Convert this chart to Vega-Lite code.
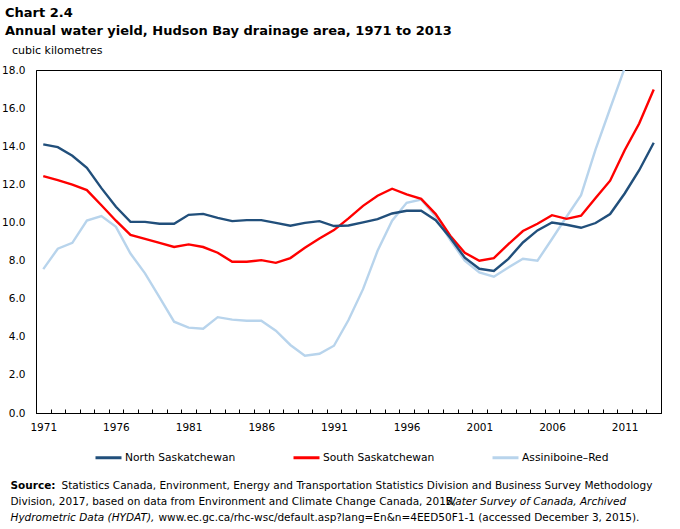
{
  "$schema": "https://vega.github.io/schema/vega-lite/v6.json",
  "width": 625,
  "height": 343,
  "autosize": {"type": "none"},
  "padding": {"left": 36, "top": 70, "right": 19, "bottom": 116},
  "background": "white",
  "title": {
    "text": ["Chart 2.4", "Annual water yield, Hudson Bay drainage area, 1971 to 2013"],
    "subtitle": "\u200b\u00a0\u00a0cubic kilometres",
    "anchor": "start",
    "frame": "group",
    "dx": -31,
    "offset": 9,
    "font": "DejaVu Sans",
    "fontSize": 13,
    "fontWeight": "bold",
    "color": "black",
    "lineHeight": 18,
    "subtitleFont": "DejaVu Sans",
    "subtitleFontSize": 11,
    "subtitleColor": "black",
    "subtitlePadding": 7
  },
  "data": {
    "values": [
      {"year": 1971, "series": "North Saskatchewan", "value": 14.1},
      {"year": 1972, "series": "North Saskatchewan", "value": 13.95},
      {"year": 1973, "series": "North Saskatchewan", "value": 13.5},
      {"year": 1974, "series": "North Saskatchewan", "value": 12.87},
      {"year": 1975, "series": "North Saskatchewan", "value": 11.8},
      {"year": 1976, "series": "North Saskatchewan", "value": 10.82},
      {"year": 1977, "series": "North Saskatchewan", "value": 10.03},
      {"year": 1978, "series": "North Saskatchewan", "value": 10.03},
      {"year": 1979, "series": "North Saskatchewan", "value": 9.93},
      {"year": 1980, "series": "North Saskatchewan", "value": 9.93},
      {"year": 1981, "series": "North Saskatchewan", "value": 10.4},
      {"year": 1982, "series": "North Saskatchewan", "value": 10.45},
      {"year": 1983, "series": "North Saskatchewan", "value": 10.24},
      {"year": 1984, "series": "North Saskatchewan", "value": 10.07},
      {"year": 1985, "series": "North Saskatchewan", "value": 10.12},
      {"year": 1986, "series": "North Saskatchewan", "value": 10.12},
      {"year": 1987, "series": "North Saskatchewan", "value": 9.98},
      {"year": 1988, "series": "North Saskatchewan", "value": 9.83},
      {"year": 1989, "series": "North Saskatchewan", "value": 9.98},
      {"year": 1990, "series": "North Saskatchewan", "value": 10.07},
      {"year": 1991, "series": "North Saskatchewan", "value": 9.81},
      {"year": 1992, "series": "North Saskatchewan", "value": 9.84},
      {"year": 1993, "series": "North Saskatchewan", "value": 10.0},
      {"year": 1994, "series": "North Saskatchewan", "value": 10.17},
      {"year": 1995, "series": "North Saskatchewan", "value": 10.47},
      {"year": 1996, "series": "North Saskatchewan", "value": 10.61},
      {"year": 1997, "series": "North Saskatchewan", "value": 10.61},
      {"year": 1998, "series": "North Saskatchewan", "value": 10.12},
      {"year": 1999, "series": "North Saskatchewan", "value": 9.2},
      {"year": 2000, "series": "North Saskatchewan", "value": 8.15},
      {"year": 2001, "series": "North Saskatchewan", "value": 7.57},
      {"year": 2002, "series": "North Saskatchewan", "value": 7.45},
      {"year": 2003, "series": "North Saskatchewan", "value": 8.09},
      {"year": 2004, "series": "North Saskatchewan", "value": 8.95},
      {"year": 2005, "series": "North Saskatchewan", "value": 9.58},
      {"year": 2006, "series": "North Saskatchewan", "value": 10.0},
      {"year": 2007, "series": "North Saskatchewan", "value": 9.88},
      {"year": 2008, "series": "North Saskatchewan", "value": 9.72},
      {"year": 2009, "series": "North Saskatchewan", "value": 9.97},
      {"year": 2010, "series": "North Saskatchewan", "value": 10.44},
      {"year": 2011, "series": "North Saskatchewan", "value": 11.52},
      {"year": 2012, "series": "North Saskatchewan", "value": 12.74},
      {"year": 2013, "series": "North Saskatchewan", "value": 14.18},
      {"year": 1971, "series": "South Saskatchewan", "value": 12.43},
      {"year": 1972, "series": "South Saskatchewan", "value": 12.22},
      {"year": 1973, "series": "South Saskatchewan", "value": 11.98},
      {"year": 1974, "series": "South Saskatchewan", "value": 11.7},
      {"year": 1975, "series": "South Saskatchewan", "value": 10.9},
      {"year": 1976, "series": "South Saskatchewan", "value": 10.09},
      {"year": 1977, "series": "South Saskatchewan", "value": 9.35},
      {"year": 1978, "series": "South Saskatchewan", "value": 9.14},
      {"year": 1979, "series": "South Saskatchewan", "value": 8.93},
      {"year": 1980, "series": "South Saskatchewan", "value": 8.71},
      {"year": 1981, "series": "South Saskatchewan", "value": 8.85},
      {"year": 1982, "series": "South Saskatchewan", "value": 8.71},
      {"year": 1983, "series": "South Saskatchewan", "value": 8.41},
      {"year": 1984, "series": "South Saskatchewan", "value": 7.94},
      {"year": 1985, "series": "South Saskatchewan", "value": 7.94},
      {"year": 1986, "series": "South Saskatchewan", "value": 8.02},
      {"year": 1987, "series": "South Saskatchewan", "value": 7.88},
      {"year": 1988, "series": "South Saskatchewan", "value": 8.13},
      {"year": 1989, "series": "South Saskatchewan", "value": 8.67},
      {"year": 1990, "series": "South Saskatchewan", "value": 9.16},
      {"year": 1991, "series": "South Saskatchewan", "value": 9.6},
      {"year": 1992, "series": "South Saskatchewan", "value": 10.21},
      {"year": 1993, "series": "South Saskatchewan", "value": 10.87},
      {"year": 1994, "series": "South Saskatchewan", "value": 11.4},
      {"year": 1995, "series": "South Saskatchewan", "value": 11.77},
      {"year": 1996, "series": "South Saskatchewan", "value": 11.47},
      {"year": 1997, "series": "South Saskatchewan", "value": 11.24},
      {"year": 1998, "series": "South Saskatchewan", "value": 10.44},
      {"year": 1999, "series": "South Saskatchewan", "value": 9.3},
      {"year": 2000, "series": "South Saskatchewan", "value": 8.41},
      {"year": 2001, "series": "South Saskatchewan", "value": 7.99},
      {"year": 2002, "series": "South Saskatchewan", "value": 8.13},
      {"year": 2003, "series": "South Saskatchewan", "value": 8.86},
      {"year": 2004, "series": "South Saskatchewan", "value": 9.55},
      {"year": 2005, "series": "South Saskatchewan", "value": 9.93},
      {"year": 2006, "series": "South Saskatchewan", "value": 10.38},
      {"year": 2007, "series": "South Saskatchewan", "value": 10.19},
      {"year": 2008, "series": "South Saskatchewan", "value": 10.35},
      {"year": 2009, "series": "South Saskatchewan", "value": 11.28},
      {"year": 2010, "series": "South Saskatchewan", "value": 12.19},
      {"year": 2011, "series": "South Saskatchewan", "value": 13.79},
      {"year": 2012, "series": "South Saskatchewan", "value": 15.19},
      {"year": 2013, "series": "South Saskatchewan", "value": 16.98},
      {"year": 1971, "series": "Assiniboine–Red", "value": 7.55},
      {"year": 1972, "series": "Assiniboine–Red", "value": 8.62},
      {"year": 1973, "series": "Assiniboine–Red", "value": 8.93},
      {"year": 1974, "series": "Assiniboine–Red", "value": 10.1},
      {"year": 1975, "series": "Assiniboine–Red", "value": 10.33},
      {"year": 1976, "series": "Assiniboine–Red", "value": 9.77},
      {"year": 1977, "series": "Assiniboine–Red", "value": 8.37},
      {"year": 1978, "series": "Assiniboine–Red", "value": 7.33},
      {"year": 1979, "series": "Assiniboine–Red", "value": 6.07},
      {"year": 1980, "series": "Assiniboine–Red", "value": 4.79},
      {"year": 1981, "series": "Assiniboine–Red", "value": 4.48},
      {"year": 1982, "series": "Assiniboine–Red", "value": 4.42},
      {"year": 1983, "series": "Assiniboine–Red", "value": 5.03},
      {"year": 1984, "series": "Assiniboine–Red", "value": 4.9},
      {"year": 1985, "series": "Assiniboine–Red", "value": 4.84},
      {"year": 1986, "series": "Assiniboine–Red", "value": 4.84},
      {"year": 1987, "series": "Assiniboine–Red", "value": 4.32},
      {"year": 1988, "series": "Assiniboine–Red", "value": 3.57},
      {"year": 1989, "series": "Assiniboine–Red", "value": 3.01},
      {"year": 1990, "series": "Assiniboine–Red", "value": 3.11},
      {"year": 1991, "series": "Assiniboine–Red", "value": 3.53},
      {"year": 1992, "series": "Assiniboine–Red", "value": 4.88},
      {"year": 1993, "series": "Assiniboine–Red", "value": 6.5},
      {"year": 1994, "series": "Assiniboine–Red", "value": 8.51},
      {"year": 1995, "series": "Assiniboine–Red", "value": 10.09},
      {"year": 1996, "series": "Assiniboine–Red", "value": 11.03},
      {"year": 1997, "series": "Assiniboine–Red", "value": 11.2},
      {"year": 1998, "series": "Assiniboine–Red", "value": 10.3},
      {"year": 1999, "series": "Assiniboine–Red", "value": 9.07},
      {"year": 2000, "series": "Assiniboine–Red", "value": 7.99},
      {"year": 2001, "series": "Assiniboine–Red", "value": 7.38},
      {"year": 2002, "series": "Assiniboine–Red", "value": 7.15},
      {"year": 2003, "series": "Assiniboine–Red", "value": 7.64},
      {"year": 2004, "series": "Assiniboine–Red", "value": 8.09},
      {"year": 2005, "series": "Assiniboine–Red", "value": 7.99},
      {"year": 2006, "series": "Assiniboine–Red", "value": 9.13},
      {"year": 2007, "series": "Assiniboine–Red", "value": 10.3},
      {"year": 2008, "series": "Assiniboine–Red", "value": 11.43},
      {"year": 2009, "series": "Assiniboine–Red", "value": 13.83},
      {"year": 2010, "series": "Assiniboine–Red", "value": 15.98},
      {"year": 2011, "series": "Assiniboine–Red", "value": 18.1},
      {"year": 2012, "series": "Assiniboine–Red", "value": 20.5},
      {"year": 2013, "series": "Assiniboine–Red", "value": 22.0}
    ]
  },
  "layer": [
    {
      "transform": [{"filter": "datum.series === 'Assiniboine–Red'"}],
      "mark": {"type": "line", "strokeWidth": 2.4, "clip": true},
      "encoding": {
        "x": {
          "field": "year", "type": "ordinal", "bandPosition": 0.5,
          "scale": {"type": "band", "paddingInner": 0, "paddingOuter": 0},
          "axis": {
            "orient": "top", "labels": false, "ticks": false, "domain": false,
            "title": "Division, 2017, based on data from Environment and Climate Change Canada, 2015,",
            "titleFont": "DejaVu Sans", "titleFontSize": 10.5, "titleFontWeight": "normal", "titleColor": "black",
            "titleAlign": "left", "titleBaseline": "alphabetic", "titleAngle": 0,
            "titleX": -26, "titleY": 434
          }
        },
        "y": {
          "field": "value", "type": "quantitative",
          "scale": {"domain": [0, 18], "nice": false},
          "axis": {
            "orient": "right", "labels": false, "ticks": false, "domain": false,
            "title": "Water Survey of Canada, Archived",
            "titleFont": "DejaVu Sans", "titleFontSize": 10.5, "titleFontWeight": "normal",
            "titleFontStyle": "italic", "titleColor": "black",
            "titleAlign": "left", "titleBaseline": "alphabetic", "titleAngle": 0,
            "titleX": -216, "titleY": 434
          }
        },
        "color": {
          "field": "series", "type": "nominal",
          "scale": {"domain": ["North Saskatchewan", "South Saskatchewan", "Assiniboine–Red"], "range": ["#214f7b", "#ff0000", "#b8d4ec"]},
          "legend": {
            "orient": "none", "legendX": 58, "legendY": 373, "direction": "horizontal", "title": null,
            "symbolType": "stroke", "symbolSize": 676, "symbolStrokeWidth": 3,
            "labelFont": "DejaVu Sans", "labelFontSize": 10.7, "labelColor": "black",
            "labelOffset": 2, "columnPadding": 51
          }
        }
      }
    },
    {
      "transform": [{"filter": "datum.series === 'South Saskatchewan'"}],
      "mark": {"type": "line", "strokeWidth": 2.4, "clip": true},
      "encoding": {
        "x": {
          "field": "year", "type": "ordinal", "bandPosition": 0.5,
          "scale": {"type": "band", "paddingInner": 0, "paddingOuter": 0},
          "axis": {
            "orient": "bottom",
            "tickBand": "extent", "tickSize": -4, "tickColor": "black",
            "labelExpr": "datum.value % 5 == 1 ? datum.label : ''",
            "labelAngle": 0, "labelPadding": 13, "labelFont": "DejaVu Sans", "labelFontSize": 10.5, "labelColor": "black",
            "domainColor": "black",
            "title": "Statistics Canada, Environment, Energy and Transportation Statistics Division and Business Survey Methodology",
            "titleFont": "DejaVu Sans", "titleFontSize": 10.5, "titleFontWeight": "normal", "titleColor": "black",
            "titleAlign": "left", "titleBaseline": "alphabetic", "titleAngle": 0,
            "titleX": 25, "titleY": 75
          }
        },
        "y": {
          "field": "value", "type": "quantitative",
          "scale": {"domain": [0, 18], "nice": false},
          "axis": {
            "orient": "left",
            "values": [0, 2, 4, 6, 8, 10, 12, 14, 16, 18],
            "format": ".1f", "ticks": false, "labelPadding": 11,
            "labelFont": "DejaVu Sans", "labelFontSize": 10.5, "labelColor": "black",
            "domainColor": "black",
            "title": "Source:",
            "titleFont": "DejaVu Sans", "titleFontSize": 10.5, "titleFontWeight": "bold", "titleColor": "black",
            "titleAngle": 0, "titleAlign": "left", "titleBaseline": "alphabetic",
            "titleX": -26, "titleY": 418
          }
        },
        "color": {
          "field": "series", "type": "nominal",
          "scale": {"domain": ["North Saskatchewan", "South Saskatchewan", "Assiniboine–Red"], "range": ["#214f7b", "#ff0000", "#b8d4ec"]},
          "legend": {
            "orient": "none", "legendX": 58, "legendY": 373, "direction": "horizontal", "title": null,
            "symbolType": "stroke", "symbolSize": 676, "symbolStrokeWidth": 3,
            "labelFont": "DejaVu Sans", "labelFontSize": 10.7, "labelColor": "black",
            "labelOffset": 2, "columnPadding": 51
          }
        }
      }
    },
    {
      "transform": [{"filter": "datum.series === 'North Saskatchewan'"}],
      "mark": {"type": "line", "strokeWidth": 2.4, "clip": true},
      "encoding": {
        "x": {
          "field": "year", "type": "ordinal", "bandPosition": 0.5,
          "scale": {"type": "band", "paddingInner": 0, "paddingOuter": 0},
          "axis": {
            "orient": "top", "labels": false, "ticks": false, "domain": false,
            "title": "Hydrometric Data (HYDAT),",
            "titleFont": "DejaVu Sans", "titleFontSize": 10.5, "titleFontWeight": "normal",
            "titleFontStyle": "italic", "titleColor": "black",
            "titleAlign": "left", "titleBaseline": "alphabetic", "titleAngle": 0,
            "titleX": -26, "titleY": 450
          }
        },
        "y": {
          "field": "value", "type": "quantitative",
          "scale": {"domain": [0, 18], "nice": false},
          "axis": {
            "orient": "right", "labels": false, "ticks": false, "domain": false,
            "title": "www.ec.gc.ca/rhc-wsc/default.asp?lang=En&n=4EED50F1-1 (accessed December 3, 2015).",
            "titleFont": "DejaVu Sans", "titleFontSize": 10.5, "titleFontWeight": "normal", "titleColor": "black",
            "titleAlign": "left", "titleBaseline": "alphabetic", "titleAngle": 0,
            "titleX": -503, "titleY": 450
          }
        },
        "color": {
          "field": "series", "type": "nominal",
          "scale": {"domain": ["North Saskatchewan", "South Saskatchewan", "Assiniboine–Red"], "range": ["#214f7b", "#ff0000", "#b8d4ec"]},
          "legend": {
            "orient": "none", "legendX": 58, "legendY": 373, "direction": "horizontal", "title": null,
            "symbolType": "stroke", "symbolSize": 676, "symbolStrokeWidth": 3,
            "labelFont": "DejaVu Sans", "labelFontSize": 10.7, "labelColor": "black",
            "labelOffset": 2, "columnPadding": 51
          }
        }
      }
    }
  ],
  "resolve": {"axis": {"x": "independent", "y": "independent"}},
  "config": {
    "view": {"stroke": "black", "strokeWidth": 1},
    "axis": {"grid": false}
  }
}
